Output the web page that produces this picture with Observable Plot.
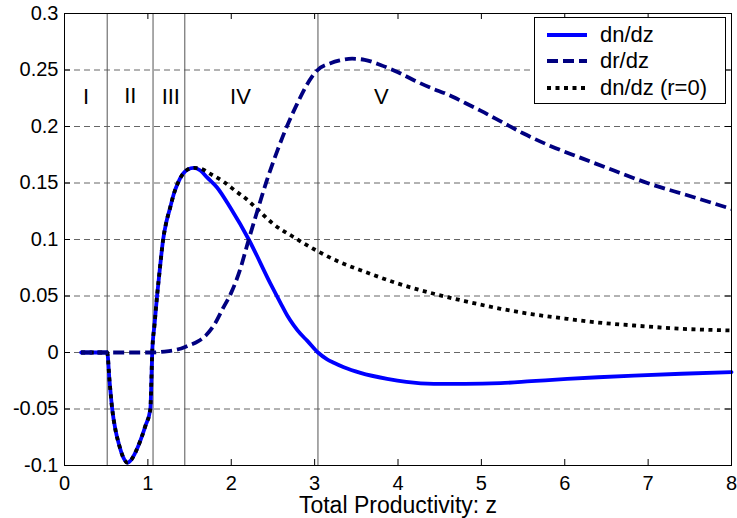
<!DOCTYPE html>
<html><head><meta charset="utf-8">
<script src="https://cdn.jsdelivr.net/npm/d3@7"></script>
<script src="https://cdn.jsdelivr.net/npm/@observablehq/plot@0.6"></script>
<style>
body{margin:0;background:#fff;}
#wrap{position:relative;width:737px;height:518px;font-family:"Liberation Sans",Arial,sans-serif;}
#legend{position:absolute;left:534px;top:17px;width:190px;height:85px;border:1px solid #000;background:#fff;}
.row{position:absolute;left:0;height:24px;display:flex;align-items:center;font-size:22px;color:#000;white-space:nowrap;}
.row svg{margin-left:12px;margin-right:13px;}
</style></head><body><div id="wrap"></div>
<script>
// x axis / y axis ticks
const xTicks = [0,1,2,3,4,5,6,7,8];
const xTickLabels = ["0","1","2","3","4","5","6","7","8"];
const yTicks = [-0.1,-0.05,0,0.05,0.1,0.15,0.2,0.25,0.3];
const yTickLabels = ["-0.1","-0.05","0","0.05","0.1","0.15","0.2","0.25","0.3"];
const gridY = [-0.05,0,0.05,0.1,0.15,0.2,0.25];

// region boundaries and labels
const regionBounds = [0.512, 1.062, 1.443, 3.04];
const regionNames = ["I","II","III","IV","V"];
const regionX = [0.26, 0.79, 1.275, 2.11, 3.8];
const regionY = [0.226, 0.227, 0.226, 0.226, 0.226];

// series: dn/dz (solid)
const solidZ = [0.2,0.512,0.54,0.572,0.61,0.652,0.70,0.755,0.80,0.86,0.91,0.97,1.03,1.042,1.052,1.08,1.11,1.145,1.183,1.22,1.263,1.31,1.36,1.42,1.48,1.55,1.63,1.71,1.83,1.99,2.21,2.47,2.59,2.67,2.75,2.83,2.91,3.04,3.15,3.23,3.35,3.55,3.87,4.1,4.43,4.8,5.23,5.6,6.03,6.4,6.83,7.4,8.0];
const solidV = [0,0,-0.025,-0.05,-0.068,-0.081,-0.092,-0.0975,-0.095,-0.087,-0.078,-0.065,-0.05,-0.025,0,0.025,0.05,0.075,0.1,0.115,0.127,0.14,0.15,0.158,0.162,0.1634,0.161,0.155,0.146,0.128,0.1,0.061,0.044,0.033,0.024,0.0165,0.0105,0,-0.006,-0.009,-0.013,-0.018,-0.0233,-0.026,-0.0277,-0.0278,-0.0271,-0.0254,-0.0234,-0.0219,-0.0204,-0.0188,-0.0174];

// series: dr/dz (dashed)
const dashZ = [0.2,1.05,1.2,1.3,1.4,1.5,1.6,1.7,1.8,1.9,2.0,2.1,2.21,2.32,2.43,2.55,2.65,2.79,2.9,3.03,3.19,3.3,3.45,3.6,3.79,4.0,4.19,4.4,4.59,4.8,4.99,5.27,5.5,5.79,6.2,6.59,6.99,7.5,8.0];
const dashV = [0,0,0.0008,0.0018,0.0035,0.0065,0.0098,0.0155,0.025,0.039,0.053,0.072,0.1,0.127,0.153,0.178,0.197,0.22,0.236,0.2496,0.256,0.2585,0.26,0.259,0.2545,0.248,0.241,0.234,0.2285,0.221,0.214,0.203,0.194,0.184,0.172,0.161,0.150,0.1385,0.127];

// series: dn/dz (r=0) (dotted)
const dotZ = [0.2,0.512,0.54,0.572,0.61,0.652,0.70,0.755,0.80,0.86,0.91,0.97,1.03,1.042,1.052,1.08,1.11,1.145,1.183,1.22,1.263,1.31,1.36,1.42,1.48,1.55,1.63,1.75,1.91,2.05,2.21,2.31,2.5,2.75,3.04,3.3,3.6,4.0,4.43,4.8,5.23,5.6,6.03,6.4,6.83,7.4,8.0];
const dotV = [0,0,-0.025,-0.05,-0.068,-0.081,-0.092,-0.0975,-0.095,-0.087,-0.078,-0.065,-0.05,-0.025,0,0.025,0.05,0.075,0.1,0.115,0.127,0.14,0.15,0.158,0.162,0.1634,0.1628,0.158,0.151,0.143,0.134,0.127,0.114,0.102,0.0895,0.08,0.0715,0.061,0.052,0.0455,0.0387,0.034,0.0298,0.0265,0.0239,0.021,0.0195];

const seriesNames = ["dn/dz","dr/dz","dn/dz (r=0)"];
const seriesColors = ["#0000ff","#000080","#000000"];
const seriesDash = [null,"11,5","4,4.5"];

const zip = (xs, ys) => xs.map((x, i) => ({z: x, v: ys[i]}));
const solid = zip(solidZ, solidV);
const dashed = zip(dashZ, dashV);
const dotted = zip(dotZ, dotV);
const regions = regionNames.map((n, i) => ({name: n, x: regionX[i], y: regionY[i]}));

const plotH = 518 - 13 - 53;
const plotW = 737 - 64 - 6;

const chart = Plot.plot({
  width: 737, height: 518,
  marginLeft: 64, marginRight: 6, marginTop: 13, marginBottom: 53,
  style: {fontFamily: "'Liberation Sans', Arial, sans-serif", fontSize: "20px", background: "#fff", color: "#000", overflow: "visible"},
  x: {domain: [0, 8]},
  y: {domain: [-0.1, 0.3]},
  marks: [
    Plot.ruleY(gridY, {y: d => d, stroke: "#666", strokeDasharray: "6,4", strokeWidth: 1}),
    Plot.ruleX(regionBounds, {x: d => d, stroke: "#555", strokeWidth: 1}),
    Plot.text(regions, {x: "x", y: "y", text: "name", fontSize: 22, fill: "#000"}),
    Plot.line(solid, {x: "z", y: "v", stroke: seriesColors[0], strokeWidth: 3.8, curve: "monotone-x"}),
    Plot.line(dotted, {x: "z", y: "v", stroke: seriesColors[2], strokeWidth: 3.8, strokeDasharray: seriesDash[2], strokeLinecap: "butt", curve: "monotone-x"}),
    Plot.line(dashed, {x: "z", y: "v", stroke: seriesColors[1], strokeWidth: 3.8, strokeDasharray: seriesDash[1], strokeLinecap: "butt", curve: "monotone-x"}),
    Plot.frame({stroke: "#000", strokeWidth: 1}),
    Plot.tickX(xTicks, {x: d => d, insetTop: plotH - 6, stroke: "#000"}),
    Plot.tickX(xTicks, {x: d => d, insetBottom: plotH - 6, stroke: "#000"}),
    Plot.tickY(yTicks, {y: d => d, insetRight: plotW - 6, stroke: "#000"}),
    Plot.tickY(yTicks, {y: d => d, insetLeft: plotW - 6, stroke: "#000"}),
    Plot.axisX({anchor: "bottom", ticks: xTicks, tickSize: 0, tickPadding: 10, fontSize: 20,
      tickFormat: d => xTickLabels[xTicks.indexOf(d)],
      label: null}),
    Plot.axisX({anchor: "bottom", ticks: [], tickSize: 0, fontSize: 23,
      label: "Total Productivity: z", labelAnchor: "center", labelArrow: "none", labelOffset: 47}),
    Plot.axisY({anchor: "left", ticks: yTicks, tickSize: 0, tickPadding: 6, fontSize: 20,
      tickFormat: d => yTickLabels[yTicks.indexOf(d)], label: null})
  ]
});

const wrap = document.getElementById("wrap");
wrap.appendChild(chart);

const legend = document.createElement("div");
legend.id = "legend";
const rowCenters = [17, 43, 70];
seriesNames.forEach((name, i) => {
  const row = document.createElement("div");
  row.className = "row";
  row.style.top = (rowCenters[i] - 12) + "px";
  const dash = seriesDash[i] ? ` stroke-dasharray="${seriesDash[i]}"` : "";
  row.innerHTML = `<svg width="40" height="8"><line x1="0" y1="4" x2="40" y2="4" stroke="${seriesColors[i]}" stroke-width="3.8"${dash}/></svg><span>${name}</span>`;
  legend.appendChild(row);
});
wrap.appendChild(legend);
</script>
</body></html>
